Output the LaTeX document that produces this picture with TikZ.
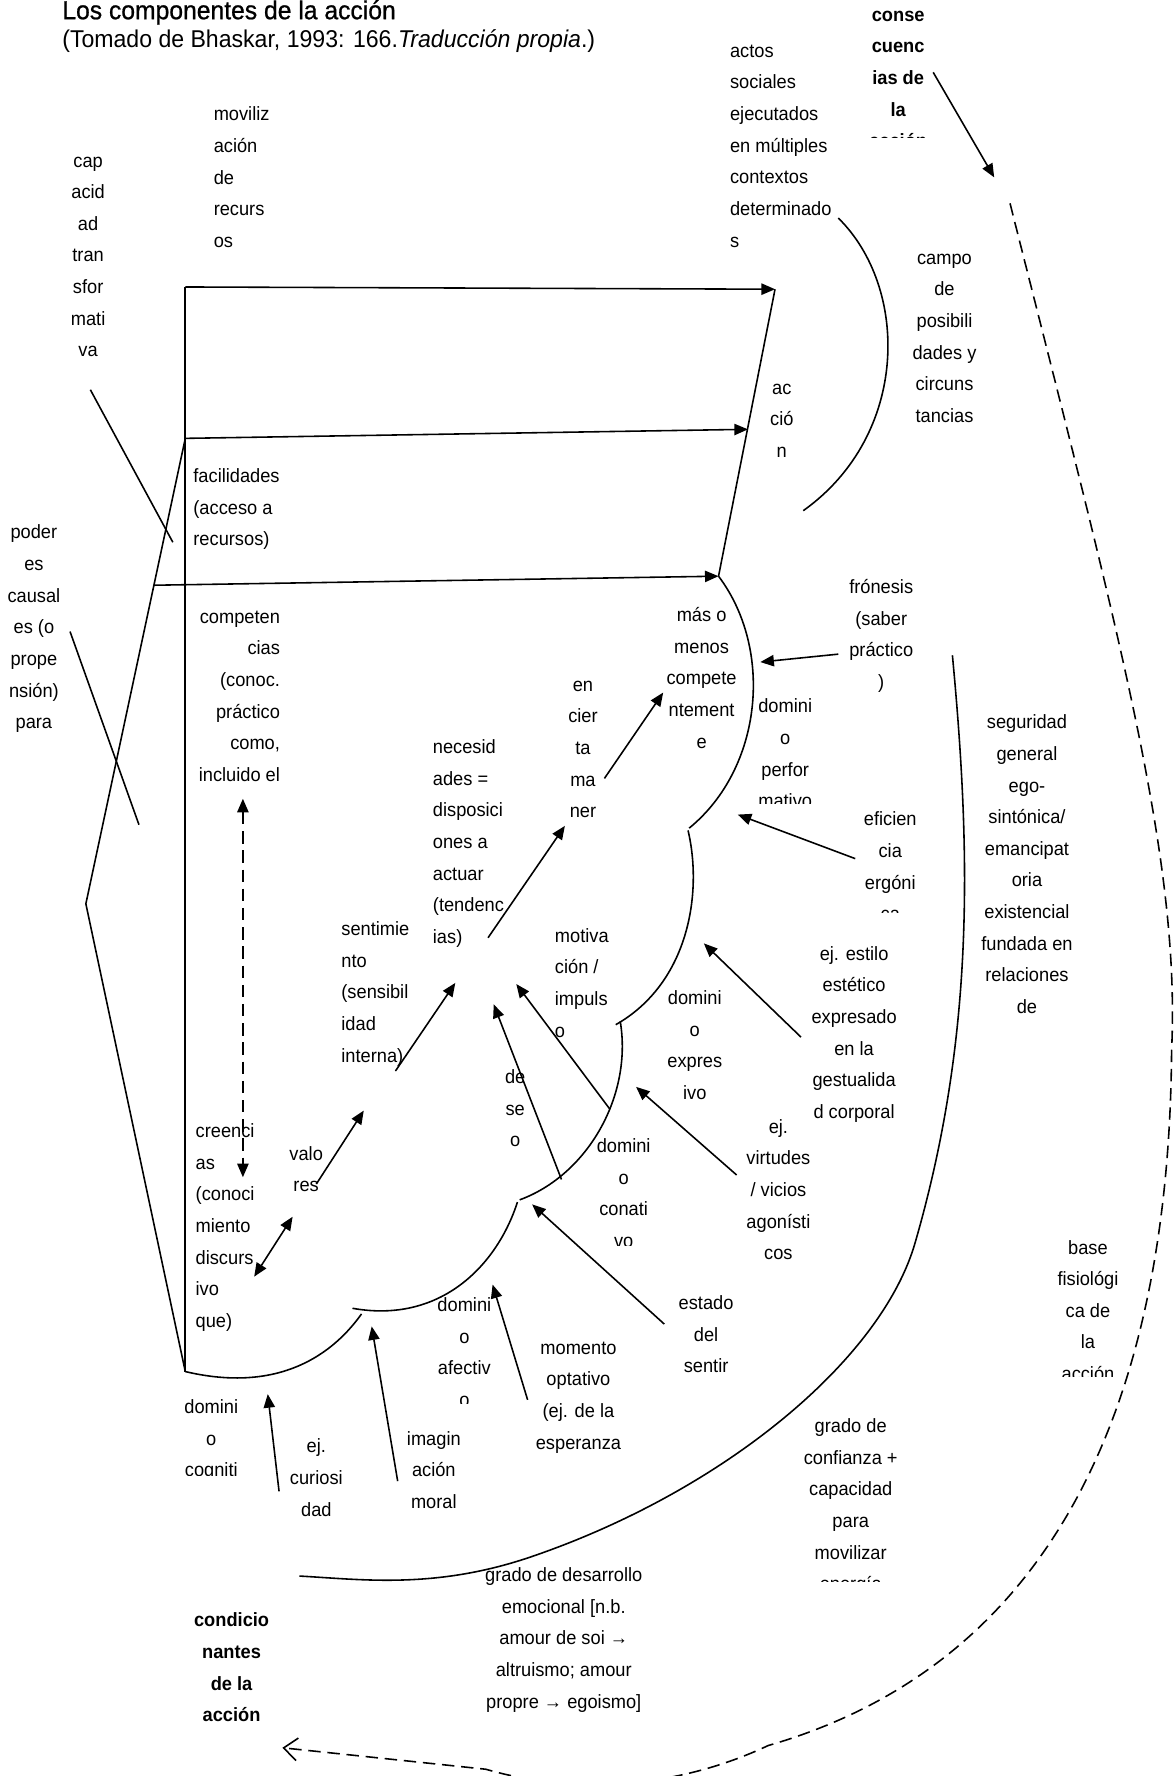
\documentclass[tikz,border=0pt]{standalone}
\usepackage{fontspec}
\setmainfont{Liberation Sans}[FakeStretch=0.95]
\newfontfamily\titlefont{Liberation Sans}[FakeStretch=0.95, FakeBold=0.8]
\usetikzlibrary{arrows.meta}
\newcommand{\lblfont}{\fontsize{17}{28}\selectfont}
\tikzset{
  lbl/.style={inner sep=0pt, align=center, anchor=north, yshift=-11.5pt, font=\lblfont, execute at begin node=\strut},
  lblL/.style={lbl, align=left, anchor=north west},
  lblR/.style={lbl, align=right, anchor=north east},
  hdr/.style={lbl, font=\lblfont\bfseries},
  conn/.style={line width=1.4pt},
  dashconn/.style={conn, dash pattern=on 11pt off 6pt},
}

\begin{document}
\begin{tikzpicture}[x=1pt, y=-1pt, >={Triangle[length=12pt,width=10pt]}]
    \useasboundingbox (0,0) rectangle (1039,1572);
    % title
    \node (title) at (55,17) [anchor=base west, inner sep=0pt, font=\titlefont\fontsize{23}{26}\selectfont] {Los componentes de la acción};
    \node (source) at (55,42) [anchor=base west, inner sep=0pt, font=\fontsize{21.5}{24}\selectfont] {(Tomado de Bhaskar, 1993: 166.\textit{Traducción propia}.)};

    % labels
    \node (capTrans)  at (78,127)  [lbl]  {cap\\acid\\ad\\tran\\sfor\\mati\\va};
    \node (movRec)    at (189,83)  [lblL] {moviliz\\ación\\de\\recurs\\os};
    \node (actos)     at (646,28)  [lblL] {actos\\sociales\\ejecutados\\en múltiples\\contextos\\determinado\\s};
    \begin{scope}
        \clip (730,-5) rectangle (860,122);
        \node (consec) at (795,-2) [hdr] {conse\\cuenc\\ias de\\la\\acción};
    \end{scope}
    \node (campo)     at (836,213) [lbl]  {campo\\de\\posibili\\dades y\\circuns\\tancias};
    \node (accion)    at (692,328) [lbl]  {ac\\ció\\n};
    \node (facil)     at (171,403) [lblL] {facilidades\\(acceso a\\recursos)};
    \node (poderes)   at (30,453)  [lbl]  {poder\\es\\causal\\es (o\\prope\\nsión)\\para};
    \node (compet)    at (248,529) [lblR] {competen\\cias\\(conoc.\\práctico\\como,\\incluido el};
    \node (masMenos)  at (621,526) [lbl]  {más o\\menos\\compete\\ntement\\e};
    \node (fronesis)  at (780,501) [lbl]  {frónesis\\(saber\\práctico\\)};
    \node (manera)    at (516,591) [lbl]  {en\\cier\\ta\\ma\\ner};
    \node (necesid)   at (383,643) [lblL] {necesid\\ades =\\disposici\\ones a\\actuar\\(tendenc\\ias)};
    \begin{scope}
        \clip (640,590) rectangle (750,711);
        \node (domPerf) at (695,607) [lbl] {domini\\o\\perfor\\mativo};
    \end{scope}
    \begin{scope}
        \clip (740,690) rectangle (840,808);
        \node (eficien) at (788,707) [lbl] {eficien\\cia\\ergóni\\ca};
    \end{scope}
    \node (seguridad) at (909,621) [lbl]  {seguridad\\general\\ego-\\sintónica/\\emancipat\\oria\\existencial\\fundada en\\relaciones\\de};
    \node (sentim)    at (302,804) [lblL] {sentimie\\nto\\(sensibil\\idad\\interna)};
    \node (motiv)     at (491,810) [lblL] {motiva\\ción /\\impuls\\o};
    \node (estilo)    at (756,826) [lbl]  {ej. estilo\\estético\\expresado\\en la\\gestualida\\d corporal};
    \node (domExpr)   at (615,865) [lbl]  {domini\\o\\expres\\ivo};
    \node (deseo)     at (456,935) [lbl]  {de\\se\\o};
    \node (creencias) at (173,983) [lblL] {creenci\\as\\(conoci\\miento\\discurs\\ivo\\que)};
    \node (valores)   at (271,1003) [lbl] {valo\\res};
    \begin{scope}
        \clip (500,980) rectangle (610,1102);
        \node (domConat) at (552,996) [lbl] {domini\\o\\conati\\vo};
    \end{scope}
    \node (virtudes)  at (689,979) [lbl]  {ej.\\virtudes\\/ vicios\\agonísti\\cos};
    \node (estado)    at (625,1135) [lbl] {estado\\del\\sentir};
    \begin{scope}
        \clip (360,1120) rectangle (434,1242);
        \node (domAfect) at (411,1137) [lbl] {domini\\o\\afectiv\\o};
    \end{scope}
    \node (momento)   at (512,1176) [lbl] {momento\\optativo\\(ej. de la\\esperanza};
    \begin{scope}
        \clip (140,1210) rectangle (240,1306);
        \node (domCogn) at (187,1227) [lbl] {domini\\o\\cogniti};
    \end{scope}
    \node (curios)    at (280,1262) [lbl] {ej.\\curiosi\\dad};
    \node (imagin)    at (384,1255) [lbl] {imagin\\ación\\moral};
    \begin{scope}
        \clip (690,1230) rectangle (820,1400);
        \node (confianza) at (753,1244) [lbl] {grado de\\confianza +\\capacidad\\para\\movilizar\\energía};
    \end{scope}
    \begin{scope}
        \clip (910,1070) rectangle (1015,1218);
        \node (basefis) at (963,1086) [lbl] {base\\fisiológi\\ca de\\la\\acción};
    \end{scope}
    \node (desarrollo) at (499,1376) [lbl] {grado de desarrollo\\emocional [n.b.\\amour de soi →\\altruismo; amour\\propre → egoismo]};
    \node (condic)    at (205,1416) [hdr] {condicio\\nantes\\de la\\acción};

    % frame of the action
    \coordinate (tl)     at (164,254);
    \coordinate (accTop) at (686,256);
    \coordinate (fl)     at (164,388);
    \coordinate (accMid) at (662,380);
    \coordinate (cl)     at (136,518);
    \coordinate (accBot) at (636,510);
    \coordinate (kink)   at (76,800);
    \coordinate (bl)     at (164,1214);
    \draw[conn,->] (tl) -- (accTop);
    \draw[conn,->] (fl) -- (accMid);
    \draw[conn,->] (cl) -- (accBot);
    \draw[conn] (accTop) -- (accBot);
    \draw[conn] (tl) -- (bl);
    \draw[conn] (fl) -- (kink) -- (bl);

    % lobes of the domains
    \draw[conn] (accBot) .. controls (685,575) and (675,680) .. (610,733);
    \draw[conn] (609,735) .. controls (622,790) and (610,870) .. (545,907);
    \draw[conn] (549,904) .. controls (560,970) and (520,1040) .. (460,1062);
    \draw[conn] (458,1064) .. controls (440,1120) and (390,1172) .. (312,1158);
    \draw[conn] (320,1163) .. controls (290,1205) and (240,1232) .. (bl);

    % field of possibilities and outer curves
    \draw[conn] (742,193) .. controls (805,255) and (805,385) .. (711,452);
    \draw[conn] (843,580) .. controls (860,760) and (862,920) .. (810,1100)
        .. controls (780,1204) and (640,1320) .. (470,1378)
        .. controls (385,1407) and (320,1398) .. (265,1395);
    \coordinate (dTop) at (894,180);
    \coordinate (dEnd) at (250,1547);
    \draw[dashconn, -{Straight Barb[length=12pt,width=20pt]}] (dTop)
        .. controls (990,560) and (1045,760) .. (1037,930)
        .. controls (1035,1230) and (940,1470) .. (680,1545)
        .. controls (610,1578) and (520,1592) .. (430,1566) -- (dEnd);

    % connectors
    \coordinate (capEnd)  at (80,345);   \coordinate (capTip)  at (153,480);
    \coordinate (podEnd)  at (62,559);   \coordinate (podTip)  at (123,730);
    \coordinate (conEnd)  at (826,64);   \coordinate (conTip)  at (880,157);
    \coordinate (froEnd)  at (742,579);  \coordinate (froTip)  at (673,586);
    \coordinate (efiEnd)  at (757,760);  \coordinate (efiTip)  at (653,721);
    \coordinate (estEnd)  at (709,918);  \coordinate (estTip)  at (623,835);
    \coordinate (virEnd)  at (652,1040); \coordinate (virTip)  at (563,962);
    \coordinate (sntEnd)  at (588,1172); \coordinate (sntTip)  at (471,1066);
    \coordinate (momEnd)  at (467,1239); \coordinate (momTip)  at (436,1137);
    \coordinate (imgEnd)  at (352,1311); \coordinate (imgTip)  at (329,1174);
    \coordinate (curEnd)  at (247,1320); \coordinate (curTip)  at (237,1234);
    \coordinate (motEnd)  at (540,982);  \coordinate (motTip)  at (457,871);
    \coordinate (desEnd)  at (497,1044); \coordinate (desTip)  at (437,889);
    \coordinate (iasEnd)  at (432,830);  \coordinate (iasTip)  at (500,731);
    \coordinate (manEnd)  at (535,689);  \coordinate (manTip)  at (587,613);
    \coordinate (senEnd)  at (350,948);  \coordinate (senTip)  at (403,870);
    \coordinate (valEnd)  at (280,1048); \coordinate (valTip)  at (322,983);
    \coordinate (creTip)  at (225,1130); \coordinate (creTip2) at (259,1077);
    \coordinate (cmpTip)  at (215,707);  \coordinate (cmpTip2) at (215,1042);
    \draw[conn] (capEnd) -- (capTip);
    \draw[conn] (podEnd) -- (podTip);
    \draw[conn,->] (conEnd) -- (conTip);
    \draw[conn,->] (froEnd) -- (froTip);
    \draw[conn,->] (efiEnd) -- (efiTip);
    \draw[conn,->] (estEnd) -- (estTip);
    \draw[conn,->] (virEnd) -- (virTip);
    \draw[conn,->] (sntEnd) -- (sntTip);
    \draw[conn,->] (momEnd) -- (momTip);
    \draw[conn,->] (imgEnd) -- (imgTip);
    \draw[conn,->] (curEnd) -- (curTip);
    \draw[conn,->] (motEnd) -- (motTip);
    \draw[conn,->] (desEnd) -- (desTip);
    \draw[conn,->] (iasEnd) -- (iasTip);
    \draw[conn,->] (manEnd) -- (manTip);
    \draw[conn,->] (senEnd) -- (senTip);
    \draw[conn,->] (valEnd) -- (valTip);
    \draw[conn,<->] (creTip) -- (creTip2);
    \draw[dashconn,<->] (cmpTip) -- (cmpTip2);
\end{tikzpicture}
\end{document}
